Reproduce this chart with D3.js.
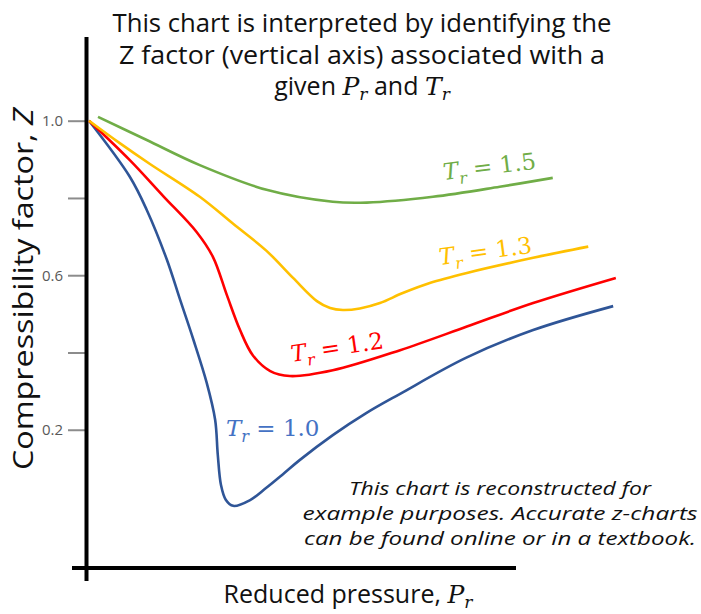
<!DOCTYPE html>
<html>
<head>
<meta charset="utf-8">
<script src="https://cdn.jsdelivr.net/npm/d3@7"></script>
<style>
  body { margin: 0; background: #fff; }
</style>
</head>
<body>
<div id="chart"></div>
<script>
var svgWidth = 701;
var svgHeight = 614;

// Z readings for each isotherm (reduced pressure in arbitrary units 0-10)
var prT10 = [0, 0.77, 1.09, 1.47, 1.72, 1.97, 2.22, 2.38, 2.43, 2.49, 2.58, 2.72, 3.04, 3.34, 3.66, 3.98, 4.60, 5.23, 5.87, 7.11, 8.38, 9.89];
var zT10  = [1.0, 0.855, 0.769, 0.640, 0.536, 0.433, 0.322, 0.226, 0.135, 0.057, 0.019, 0.003, 0.018, 0.049, 0.085, 0.122, 0.186, 0.243, 0.293, 0.386, 0.458, 0.520];

var prT12 = [0, 0.77, 1.40, 2.03, 2.34, 2.60, 2.85, 3.09, 3.42, 3.79, 4.60, 5.87, 7.13, 8.38, 9.94];
var zT12  = [1.0, 0.898, 0.805, 0.712, 0.647, 0.549, 0.458, 0.393, 0.352, 0.339, 0.354, 0.406, 0.467, 0.528, 0.593];

var prT13 = [0, 0.58, 1.15, 2.09, 2.72, 3.35, 3.85, 4.30, 4.55, 4.79, 5.11, 5.49, 5.92, 6.43, 7.13, 8.38, 9.42];
var zT13  = [1.0, 0.942, 0.888, 0.803, 0.733, 0.663, 0.593, 0.533, 0.515, 0.510, 0.514, 0.528, 0.554, 0.580, 0.606, 0.645, 0.674];

var prT15 = [0.17, 1.09, 2.09, 3.35, 4.60, 5.24, 6.49, 7.75, 8.75];
var zT15  = [1.01, 0.950, 0.885, 0.821, 0.790, 0.788, 0.803, 0.829, 0.852];

var trValues = ["1.0", "1.2", "1.3", "1.5"];
var yTicks = [1.0, 0.8, 0.6, 0.4, 0.2];
var yTickLabels = ["1.0", "", "0.6", "", "0.2"];

var lineColors = ["#2f5597", "#ff0000", "#ffc000", "#70ad47"];
var labelColors = ["#4472c4", "#ff0000", "#ffc000", "#70ad47"];

var series = [
  { tr: trValues[0], pr: prT10, z: zT10 },
  { tr: trValues[1], pr: prT12, z: zT12 },
  { tr: trValues[2], pr: prT13, z: zT13 },
  { tr: trValues[3], pr: prT15, z: zT15 }
];

// where each T_r label sits (pixel layout) and its tilt
var labelPlace = [
  { x: 226, y: 436, rot: 0 },
  { x: 292, y: 362, rot: -8.5 },
  { x: 440, y: 265, rot: -7.5 },
  { x: 444, y: 180, rot: -7 }
];

var uiFont = "'Open Sans', 'DejaVu Sans', sans-serif";
var mathFont = "'DejaVu Serif', serif";

var svg = d3.select("#chart")
  .append("svg")
  .attr("width", svgWidth)
  .attr("height", svgHeight);

var x = d3.scaleLinear().domain([0, 10]).range([89, 619]);
var y = d3.scaleLinear().domain([0, 1]).range([507, 120.7]);

// y ticks (grey) via d3 axis
var yAxis = svg.append("g")
  .attr("transform", "translate(87,0)")
  .call(d3.axisLeft(y)
    .tickValues(yTicks)
    .tickSize(19)
    .tickPadding(5)
    .tickFormat(function (d, i) { return yTickLabels[i]; }));

yAxis.select(".domain").remove();
yAxis.selectAll(".tick line").attr("stroke", "#8c8c8c").attr("stroke-width", 2);
yAxis.selectAll(".tick text")
  .attr("fill", "#595959")
  .style("font-family", uiFont)
  .style("font-size", "15px");

// main black axes
svg.append("line")
  .attr("x1", 86.5).attr("x2", 86.5)
  .attr("y1", 37).attr("y2", 581)
  .attr("stroke", "#000").attr("stroke-width", 4);

svg.append("line")
  .attr("x1", 72).attr("x2", 516)
  .attr("y1", 568).attr("y2", 568)
  .attr("stroke", "#000").attr("stroke-width", 4);

// curves
var line = d3.line()
  .x(function (d) { return x(d[0]); })
  .y(function (d) { return y(d[1]); })
  .curve(d3.curveCatmullRom.alpha(0.5));

series.forEach(function (s, i) {
  var pts = s.pr.map(function (p, j) { return [p, s.z[j]]; });
  svg.append("path")
    .attr("d", line(pts))
    .attr("fill", "none")
    .attr("stroke", lineColors[i])
    .attr("stroke-width", 2.6)
    .attr("stroke-linejoin", "round");
});

// T_r labels
series.forEach(function (s, i) {
  var p = labelPlace[i];
  var t = svg.append("text")
    .attr("transform", "translate(" + p.x + "," + p.y + ") rotate(" + p.rot + ")")
    .attr("fill", labelColors[i])
    .style("font-family", mathFont)
    .style("font-size", "23px");
  t.append("tspan").style("font-style", "italic").text("T");
  t.append("tspan").style("font-style", "italic").style("font-size", "16px").attr("dy", 6).text("r");
  t.append("tspan").attr("dy", -6).text(" = " + s.tr);
});

// title
function plainLine(txt, cx, by, size, len, italic) {
  return svg.append("text")
    .attr("x", cx).attr("y", by)
    .attr("text-anchor", "middle")
    .attr("fill", "#111")
    .attr("textLength", len)
    .attr("lengthAdjust", "spacingAndGlyphs")
    .style("font-family", uiFont)
    .style("font-style", italic ? "italic" : "normal")
    .style("font-size", size + "px")
    .text(txt);
}

plainLine("This chart is interpreted by identifying the", 362, 32, 25, 499, false);
plainLine("Z factor (vertical axis) associated with a", 362, 64, 25, 486, false);

var l3 = svg.append("text")
  .attr("x", 362).attr("y", 95)
  .attr("text-anchor", "middle")
  .attr("fill", "#111")
  .style("font-family", uiFont)
  .style("font-size", "25px");
l3.append("tspan").text("given ");
l3.append("tspan").style("font-family", mathFont).style("font-style", "italic").text("P");
l3.append("tspan").style("font-family", mathFont).style("font-style", "italic").style("font-size", "17px").attr("dy", 5).text("r");
l3.append("tspan").attr("dy", -5).text(" and ");
l3.append("tspan").style("font-family", mathFont).style("font-style", "italic").text("T");
l3.append("tspan").style("font-family", mathFont).style("font-style", "italic").style("font-size", "17px").attr("dy", 5).text("r");

// axis titles
var yTitle = svg.append("text")
  .attr("transform", "translate(33,289) rotate(-90)")
  .attr("text-anchor", "middle")
  .attr("fill", "#111")
  .attr("textLength", 362)
  .attr("lengthAdjust", "spacingAndGlyphs")
  .style("font-family", uiFont)
  .style("font-size", "27px");
yTitle.append("tspan").text("Compressibility factor, ");
yTitle.append("tspan").style("font-style", "italic").text("Z");

var xTitle = svg.append("text")
  .attr("x", 348).attr("y", 603)
  .attr("text-anchor", "middle")
  .attr("fill", "#111")
  .style("font-family", uiFont)
  .style("font-size", "25px");
xTitle.append("tspan").text("Reduced pressure, ");
xTitle.append("tspan").style("font-family", mathFont).style("font-style", "italic").text("P");
xTitle.append("tspan").style("font-family", mathFont).style("font-style", "italic").style("font-size", "17px").attr("dy", 5).text("r");

// note
plainLine("This chart is reconstructed for", 500, 495, 18, 302, true);
plainLine("example purposes. Accurate z-charts", 500, 520, 18, 395, true);
plainLine("can be found online or in a textbook.", 500, 545, 18, 392, true);
</script>
</body>
</html>
